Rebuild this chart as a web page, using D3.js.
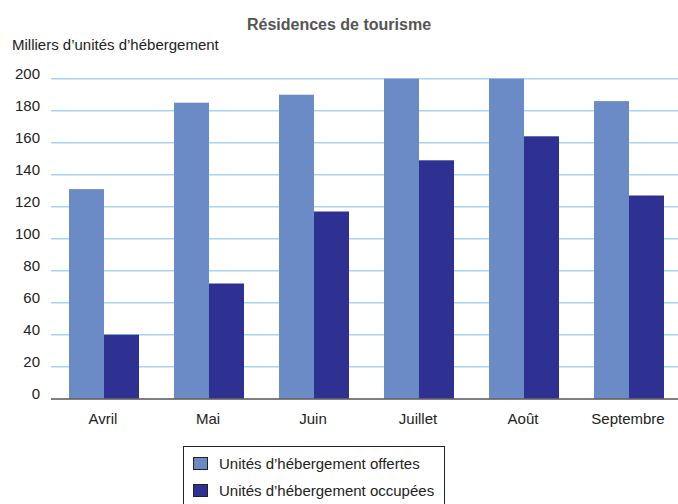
<!DOCTYPE html>
<html><head><meta charset="utf-8">
<script src="https://cdn.jsdelivr.net/npm/d3@7"></script>
<style>body{margin:0;background:#fff;} text{font-family:"Liberation Sans",Arial,sans-serif;}</style>
</head><body>
<svg id="c" width="678" height="504"></svg>
<script>
const categories = ["Avril","Mai","Juin","Juillet","Août","Septembre"];
const offertes = [131, 185, 190, 200, 200, 186];
const occupees = [40, 72, 117, 149, 164, 127];
const seriesNames = ["Unités d’hébergement offertes","Unités d’hébergement occupées"];
const colors = ["#6b8bc6","#2e3192"];
const yTicks = [0,20,40,60,80,100,120,140,160,180,200];
const title = "Résidences de tourisme";
const yTitle = "Milliers d’unités d’hébergement";

const svg = d3.select("#c");
const y = d3.scaleLinear().domain([0,200]).range([398.7,78.7]);
const x = d3.scaleBand().domain(categories).range([51.5,681.5]).padding(0);
const xs = d3.scaleBand().domain([0,1]).range([0, x.bandwidth()]).paddingInner(0).paddingOuter(0.5);

svg.append("text").attr("x",339).attr("y",30).attr("text-anchor","middle")
  .attr("font-size",16).attr("font-weight","bold").attr("fill","#555").text(title);
svg.append("text").attr("x",12).attr("y",50).attr("font-size",15).attr("fill","#222").text(yTitle);

// gridlines
svg.append("g").selectAll("line").data(yTicks.filter(d=>d>0)).join("line")
  .attr("x1",51).attr("x2",678).attr("y1",d=>y(d)).attr("y2",d=>y(d))
  .attr("stroke","#a6d5f2").attr("stroke-width",1.6);

// y labels
svg.append("g").selectAll("text").data(yTicks).join("text")
  .attr("x",40).attr("y",d=>y(d)+0.5).attr("text-anchor","end")
  .attr("font-size",15).attr("fill","#222").text(d=>d);

const data = categories.map((c,i)=>({c, v:[offertes[i], occupees[i]]}));
const g = svg.append("g").selectAll("g").data(data).join("g")
  .attr("transform",d=>`translate(${x(d.c)},0)`);
g.selectAll("rect").data(d=>d.v.map((v,k)=>({v,k}))).join("rect")
  .attr("x",d=>xs(d.k)).attr("width",xs.bandwidth())
  .attr("y",d=>y(d.v)).attr("height",d=>y(0)-y(d.v))
  .attr("fill",d=>colors[d.k]);

// x axis
svg.append("line").attr("x1",51).attr("x2",678).attr("y1",399).attr("y2",399)
  .attr("stroke","#555").attr("stroke-width",1.5);
svg.append("g").selectAll("text").data(categories).join("text")
  .attr("x",d=>x(d)+x.bandwidth()/2-1).attr("y",424).attr("text-anchor","middle")
  .attr("font-size",15).attr("fill","#222").text(d=>d);

// legend
svg.append("rect").attr("x",183.5).attr("y",446.5).attr("width",261).attr("height",70)
  .attr("fill","none").attr("stroke","#222").attr("stroke-width",1);
seriesNames.forEach((n,k)=>{
  const yy = 457 + k*27;
  svg.append("rect").attr("x",193.5).attr("y",yy+0.5).attr("width",14).attr("height",12)
    .attr("fill",colors[k]).attr("stroke","#222").attr("stroke-width",1);
  svg.append("text").attr("x",219).attr("y",yy+12).attr("font-size",15).attr("fill","#222").text(n);
});
</script>
</body></html>
